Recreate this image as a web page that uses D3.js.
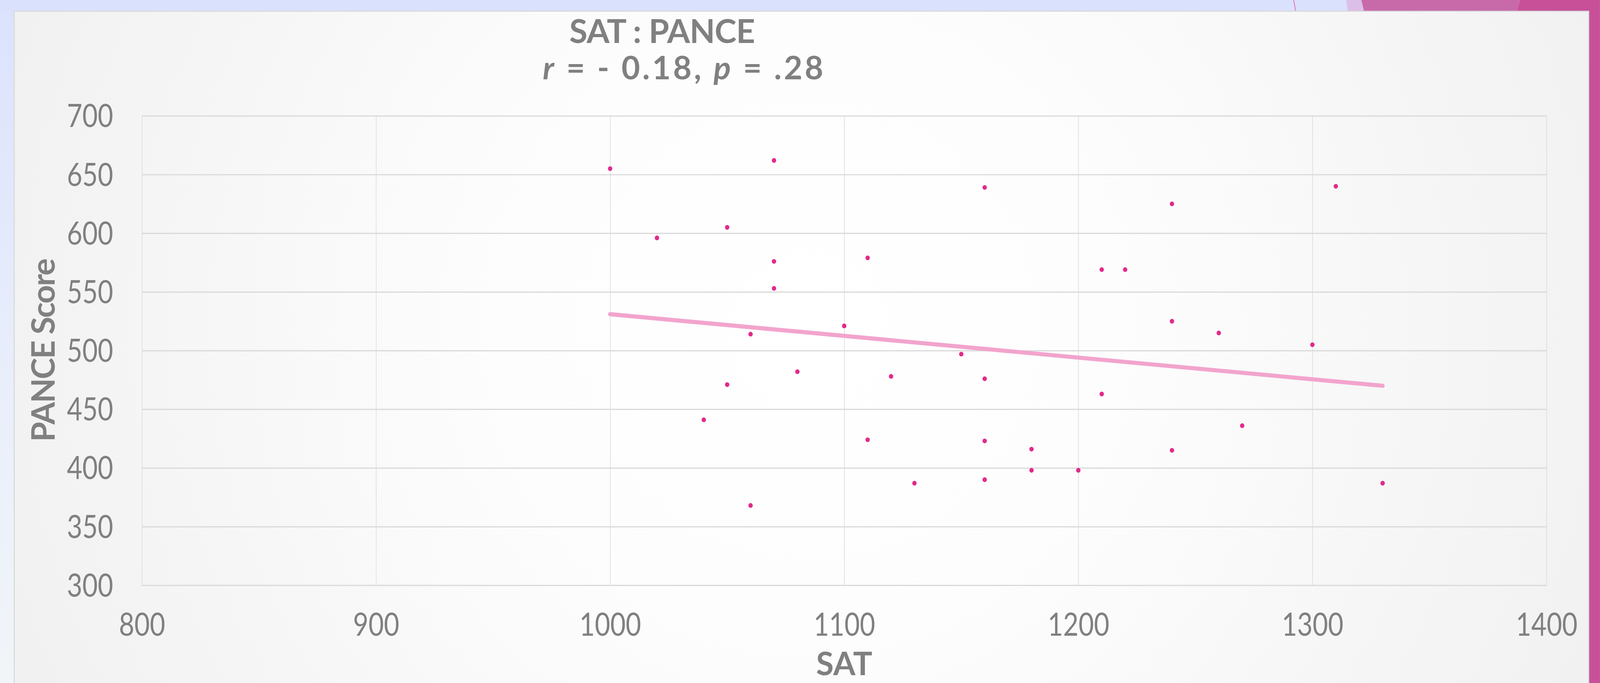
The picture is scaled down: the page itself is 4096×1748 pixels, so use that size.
<!DOCTYPE html>
<html><head><meta charset="utf-8">
<script src="https://cdn.jsdelivr.net/npm/d3@7"></script>
<style>html,body{margin:0;padding:0;overflow:hidden;background:#fff}</style>
</head><body>
<svg id="c" width="4096" height="1748" viewBox="0 0 4848 2069"></svg>
<script>
// ---- data ----
const satValues   = [1000,1020,1040,1050,1050,1060,1060,1070,1070,1070,1080,1100,1110,1110,1120,1130,1150,1160,1160,1160,1160,1180,1180,1200,1210,1210,1220,1240,1240,1240,1260,1270,1300,1310,1330];
const panceValues = [655, 596, 441, 605, 471, 514, 368, 662, 576, 553, 482, 521, 579, 424, 478, 387, 497, 639, 476, 423, 390, 416, 398, 398, 569, 463, 569, 625, 525, 415, 515, 436, 505, 640, 387];
const trendSat   = [1000, 1330];
const trendPance = [531, 470];
const xTicks = [800, 900, 1000, 1100, 1200, 1300, 1400];
const yTicks = [300, 350, 400, 450, 500, 550, 600, 650, 700];
const xDomain = [800, 1400];
const yDomain = [300, 700];
const titleLine1 = "SAT : PANCE";
const titleLine2 = [{t:"r", i:true}, {t:" = - 0.18, ", i:false}, {t:"p", i:true}, {t:" = .28", i:false}];
const xTitle = "SAT";
const yTitle = "PANCE Score";

// ---- layout ----
const W = 4848, H = 2069;
const plot = {l: 430, r: 4686, t: 351, b: 1773};
const FONT = "Lato, 'Open Sans', sans-serif";
const TXT = "#808080";

const svg = d3.select("#c");
const defs = svg.append("defs");

const lg = defs.append("linearGradient").attr("id","leftBand").attr("x1",0).attr("y1",0).attr("x2",0).attr("y2",1);
lg.append("stop").attr("offset",0).attr("stop-color","#dbe2fd");
lg.append("stop").attr("offset",0.55).attr("stop-color","#e9eefb");
lg.append("stop").attr("offset",1).attr("stop-color","#f1f5f8");

const rg = defs.append("radialGradient").attr("id","card").attr("gradientUnits","userSpaceOnUse")
  .attr("cx",2450).attr("cy",1000).attr("r",2700);
rg.append("stop").attr("offset",0).attr("stop-color","#ffffff");
rg.append("stop").attr("offset",0.35).attr("stop-color","#fdfdfd");
rg.append("stop").attr("offset",0.75).attr("stop-color","#f5f5f5");
rg.append("stop").attr("offset",1).attr("stop-color","#f0f0f0");

// background
svg.append("rect").attr("x",0).attr("y",0).attr("width",W).attr("height",H).attr("fill","url(#leftBand)");
svg.append("rect").attr("x",0).attr("y",0).attr("width",W).attr("height",34).attr("fill","#dae1fd");
// top-right decorations
svg.append("polygon").attr("points","4079,0 4125,0 4133,34 4084,34").attr("fill","#dcbfe9");
svg.append("polygon").attr("points","4125,0 4606,0 4596,34 4133,34").attr("fill","#c86aaa");
svg.append("polygon").attr("points","4606,0 4848,0 4848,2069 4814,2069 4814,34 4596,34").attr("fill","#c85098");
svg.append("line").attr("x1",3920).attr("y1",0).attr("x2",3926).attr("y2",34).attr("stroke","#ea5aa9").attr("stroke-width",2);

// card
svg.append("rect").attr("x",43).attr("y",34).attr("width",4771).attr("height",2100)
  .attr("fill","url(#card)").attr("stroke","#d8d8d8").attr("stroke-width",3);

// scales
const x = d3.scaleLinear().domain(xDomain).range([plot.l, plot.r]);
const y = d3.scaleLinear().domain(yDomain).range([plot.b, plot.t]);

// vertical gridlines
const gx = svg.append("g").attr("transform",`translate(0,${plot.b})`)
  .call(d3.axisBottom(x).tickValues(xTicks).tickSize(-(plot.b-plot.t)).tickFormat(""));
gx.select(".domain").remove();
gx.selectAll(".tick line").attr("stroke","#dedede").attr("stroke-width",2);

// horizontal gridlines
const gy = svg.append("g").attr("transform",`translate(${plot.l},0)`)
  .call(d3.axisLeft(y).tickValues(yTicks).tickSize(-(plot.r-plot.l)).tickFormat(""));
gy.select(".domain").remove();
gy.selectAll(".tick line").attr("stroke","#d9d9d9").attr("stroke-width",3.5);

// x tick labels
const xl = svg.append("g").attr("transform",`translate(0,${plot.b})`)
  .call(d3.axisBottom(x).tickValues(xTicks).tickSize(0).tickPadding(0).tickFormat(d3.format("d")));
xl.select(".domain").remove();
xl.selectAll(".tick text").attr("y",153).attr("dy",null)
  .attr("font-family",FONT).attr("font-size",96).attr("fill",TXT);

// y tick labels
const yl = svg.append("g").attr("transform",`translate(${plot.l},0)`)
  .call(d3.axisLeft(y).tickValues(yTicks).tickSize(0).tickPadding(0).tickFormat(d3.format("d")));
yl.select(".domain").remove();
yl.selectAll(".tick text").attr("dy","0.35em")
  .attr("font-family",FONT).attr("font-size",96).attr("fill",TXT);

// compress tick labels to the reference's narrow figures
const ref = xl.selectAll(".tick text").filter(d => d === 1000).node();
const sx = 187 / ref.getBBox().width;
xl.selectAll(".tick text").attr("transform",`scale(${sx},1)`);
yl.selectAll(".tick text").attr("x", -87 / sx).attr("transform",`scale(${sx},1)`);

// trend line
const trend = trendSat.map((s,i)=>[s, trendPance[i]]);
svg.append("path").datum(trend)
  .attr("d", d3.line().x(d=>x(d[0])).y(d=>y(d[1])))
  .attr("fill","none").attr("stroke","#f2a4cd").attr("stroke-width",12.5).attr("stroke-linecap","round");

// points
const pts = satValues.map((s,i)=>({s, p: panceValues[i]}));
svg.append("g").selectAll("ellipse").data(pts).join("ellipse")
  .attr("cx",d=>x(d.s)).attr("cy",d=>y(d.p)).attr("rx",6.6).attr("ry",7.2)
  .attr("fill","#e2298b");

// titles
const t1 = svg.append("text").attr("x",2006).attr("y",130).attr("text-anchor","middle")
  .attr("font-family",FONT).attr("font-weight",700).attr("font-size",100).attr("fill",TXT)
  .text(titleLine1);
const t2 = svg.append("text").attr("x",2073).attr("y",240).attr("text-anchor","middle")
  .attr("font-family",FONT).attr("font-weight",700).attr("font-size",97).attr("fill",TXT)
  .attr("xml:space","preserve").style("white-space","pre");
t2.selectAll("tspan").data(titleLine2).join("tspan")
  .attr("font-style",d=>d.i?"italic":"normal").text(d=>d.t);
{
  const w = t2.node().getComputedTextLength();
  t2.attr("letter-spacing", (850 - w) / 18);
}
const w1 = t1.node().getComputedTextLength();
t1.attr("letter-spacing", (563 - w1) / 10);

svg.append("text").attr("x",(plot.l+plot.r)/2).attr("y",2045).attr("text-anchor","middle")
  .attr("font-family",FONT).attr("font-weight",700).attr("font-size",97).attr("fill",TXT).text(xTitle);
const yt = svg.append("text").attr("transform",`translate(166,${(plot.t+plot.b)/2}) rotate(-90)`)
  .attr("text-anchor","middle")
  .attr("font-family",FONT).attr("font-weight",700).attr("font-size",98).attr("fill",TXT).text(yTitle);
{
  const w = yt.node().getComputedTextLength();
  yt.attr("letter-spacing", (556 - w) / 10);
}
</script>
</body></html>
